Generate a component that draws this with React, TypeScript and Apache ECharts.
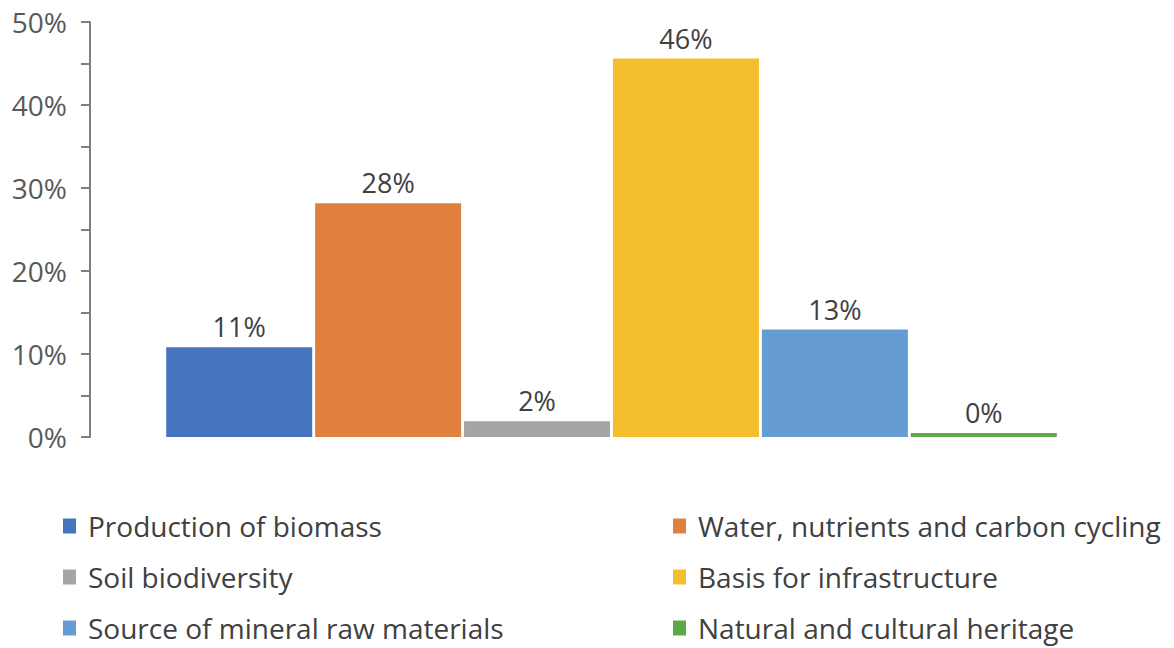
import React, { useEffect, useRef } from "react";
import * as echarts from "echarts";

const seriesNames = [
  "Production of biomass",
  "Water, nutrients and carbon cycling",
  "Soil biodiversity",
  "Basis for infrastructure",
  "Source of mineral raw materials",
  "Natural and cultural heritage",
];
const seriesValues = [10.8, 28.15, 1.9, 45.6, 12.95, 0.49];
const seriesColors = ["#4675C0", "#E0803F", "#A5A5A5", "#F5BE2F", "#659DD3", "#5DA84B"];
const categories = ["Soil functions"];
const leftLegend = [seriesNames[0], seriesNames[2], seriesNames[4]];
const rightLegend = [seriesNames[1], seriesNames[3], seriesNames[5]];

const FONT = "Open Sans";

export default function App() {
  const ref = useRef<HTMLDivElement>(null);
  useEffect(() => {
    if (!ref.current) return;
    const chart = echarts.init(ref.current, undefined, { renderer: "svg" });
    const legendBase = {
      orient: "vertical" as const,
      top: 511,
      height: 200,
      padding: 0,
      itemWidth: 13,
      itemHeight: 15,
      itemGap: 21,
      icon: "rect",
      textStyle: { fontFamily: FONT, fontSize: 28, color: "#404040", lineHeight: 30, padding: [0, 0, 0, 7] },
    };
    chart.setOption({
      animation: false,
      backgroundColor: "#ffffff",
      grid: { left: 90, right: 41, top: 22, bottom: 211, containLabel: false },
      legend: [
        { ...legendBase, left: 63, data: leftLegend },
        { ...legendBase, left: 673, data: rightLegend },
      ],
      xAxis: {
        type: "category",
        data: categories,
        axisLine: { show: false },
        axisTick: { show: false },
        axisLabel: { show: false },
      },
      yAxis: {
        type: "value",
        min: 0,
        max: 50,
        interval: 5,
        axisLine: { show: true, lineStyle: { color: "#7f7f7f", width: 2 } },
        axisTick: { show: true, inside: false, length: 9, lineStyle: { color: "#7f7f7f", width: 2 } },
        splitLine: { show: false },
        axisLabel: {
          margin: 23,
          fontFamily: FONT,
          fontSize: 28,
          color: "#595959",
          formatter: (v: number) => (v % 10 === 0 ? v + "%" : ""),
        },
      },
      series: seriesNames.map((name, i) => ({
        name,
        type: "bar",
        data: [seriesValues[i]],
        barWidth: 146,
        barGap: "2%",
        itemStyle: { color: seriesColors[i] },
        label: {
          show: true,
          position: "top",
          distance: 7,
          fontFamily: FONT,
          fontSize: 27,
          color: "#404040",
          formatter: (p: any) => Math.round(p.value) + "%",
        },
      })),
    });
    return () => chart.dispose();
  }, []);
  return <div ref={ref} style={{ position: "absolute", left: 0, top: 0, width: 1174, height: 648 }} />;
}
